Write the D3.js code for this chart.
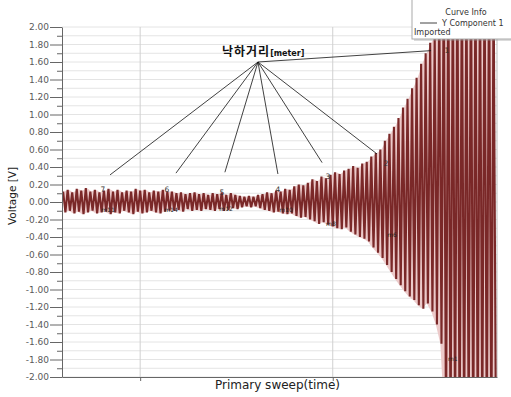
<!DOCTYPE html>
<html>
<head>
<meta charset="utf-8">
<script src="https://cdn.jsdelivr.net/npm/d3@7"></script>
<style>
body { margin: 0; background: #fff; }
text { font-family: "DejaVu Sans", sans-serif; }
</style>
</head>
<body>
<div id="chart"></div>
<script>
// y axis tick labels
var yTicks = [2.0, 1.8, 1.6, 1.4, 1.2, 1.0, 0.8, 0.6, 0.4, 0.2, 0.0,
    -0.2, -0.4, -0.6, -0.8, -1.0, -1.2, -1.4, -1.6, -1.8, -2.0];
// unlabelled x ticks (sample index)
var xTicks = [34, 119];

// peak values per cycle of the sweep (V)
var upper = [0.12, 0.14, 0.11, 0.15, 0.13, 0.16, 0.12, 0.14, 0.11, 0.13, 0.15, 0.12,
    0.14, 0.11, 0.13, 0.12, 0.15, 0.13, 0.14, 0.11, 0.13, 0.12, 0.14, 0.12,
    0.12, 0.10, 0.11, 0.09, 0.10, 0.11, 0.09, 0.10, 0.08, 0.10,
    0.09, 0.11, 0.08, 0.10, 0.08,
    0.07, 0.06, 0.07, 0.06, 0.08,
    0.09, 0.11, 0.10, 0.13, 0.12, 0.15, 0.14,
    0.18, 0.20, 0.19, 0.22,
    0.26, 0.24, 0.29, 0.27,
    0.31, 0.34, 0.32, 0.36,
    0.38, 0.41, 0.39, 0.44, 0.46,
    0.52, 0.56, 0.60,
    0.70, 0.78, 0.86,
    0.96, 1.08, 1.18,
    1.30, 1.42,
    1.58, 1.70,
    1.82, 1.90,
    2.30,
    2.6, 2.7, 2.6, 2.8, 2.7, 2.6, 2.8, 2.7, 2.6, 2.7, 2.8, 2.6];
var lower = [-0.12, -0.10, -0.13, -0.11, -0.14, -0.12, -0.10, -0.13, -0.12, -0.11, -0.14, -0.12,
    -0.13, -0.10, -0.12, -0.14, -0.11, -0.13, -0.12, -0.10, -0.12, -0.13, -0.11, -0.10,
    -0.10, -0.09, -0.11, -0.08, -0.10, -0.09, -0.10, -0.08, -0.09, -0.10,
    -0.08, -0.10, -0.09, -0.07, -0.08,
    -0.06, -0.05, -0.06, -0.05, -0.07,
    -0.09, -0.10, -0.12, -0.11, -0.13, -0.14, -0.13,
    -0.16, -0.18, -0.17, -0.20,
    -0.22, -0.25, -0.23, -0.26,
    -0.28, -0.30, -0.31, -0.29,
    -0.34, -0.37, -0.40, -0.42, -0.45,
    -0.52, -0.58, -0.64,
    -0.72, -0.80, -0.88,
    -0.95, -1.02, -1.08,
    -1.12, -1.18,
    -1.22, -1.16,
    -1.25, -1.40,
    -1.62,
    -2.6, -2.7, -2.6, -2.8, -2.7, -2.6, -2.8, -2.7, -2.6, -2.7, -2.8, -2.6];

// drop distance labels: text spot and where the leader line ends
var distLabels = ['7', '6', '5', '4', '3', '2', '1'];
var distText = [[17.6, 0.11], [45.8, 0.11], [70.1, 0.08], [94.8, 0.11], [116.9, 0.26], [142.5, 0.41], [169.4, 1.70]];
var leaderEnds = [[20.7, 0.31], [49.8, 0.33], [71.4, 0.34], [94.8, 0.32], [114.3, 0.45], [138.5, 0.55], [162.4, 1.73]];
var leaderHub = [86.0, 1.60];
var markerNames = ['m11', 'm14', 'm12', 'm10', 'm8', 'm6', 'm1'];
var markerPos = [[19.8, -0.11], [47.6, -0.11], [71.9, -0.10], [98.4, -0.11], [118.2, -0.27], [145.2, -0.40], [172.0, -1.82]];

var width = 511, height = 397;
var pLeft = 62, pRight = 497, pTop = 27, pBottom = 377;

var svg = d3.select('#chart').append('svg')
    .attr('width', width).attr('height', height);

var x = d3.scaleLinear().domain([-0.5, upper.length * 2 - 0.5]).range([pLeft, pRight]);
var y = d3.scaleLinear().domain([-2, 2]).range([pBottom, pTop]);

// grid
svg.append('g').selectAll('line')
    .data(y.ticks(40))
    .enter().append('line')
    .attr('x1', pLeft).attr('x2', pRight)
    .attr('y1', d => y(d)).attr('y2', d => y(d))
    .attr('stroke', '#e4e4e4').attr('stroke-width', 1);
svg.append('g').selectAll('line')
    .data(xTicks)
    .enter().append('line')
    .attr('x1', d => x(d)).attr('x2', d => x(d))
    .attr('y1', pTop).attr('y2', pBottom)
    .attr('stroke', '#d0d0d0').attr('stroke-width', 1);

// frame
svg.append('line').attr('x1', pRight).attr('x2', pRight).attr('y1', pTop).attr('y2', pBottom)
    .attr('stroke', '#bbb');

// waveform
svg.append('clipPath').attr('id', 'clip').append('rect')
    .attr('x', pLeft).attr('y', pTop).attr('width', pRight - pLeft).attr('height', pBottom - pTop);

var pts = [];
upper.forEach(function (u, i) {
    pts.push([2 * i, u]);
    pts.push([2 * i + 1, lower[i]]);
});

// pale band behind the trace (gaps between strokes look pink)
svg.append('path')
    .datum(upper.map((u, i) => [2 * i + 0.5, u, lower[i]]))
    .attr('clip-path', 'url(#clip)')
    .attr('fill', '#eccaca')
    .attr('d', d3.area().x(d => x(d[0])).y0(d => y(d[2])).y1(d => y(d[1])));

svg.append('path')
    .datum(pts)
    .attr('clip-path', 'url(#clip)')
    .attr('fill', 'none')
    .attr('stroke', '#7a2828')
    .attr('stroke-width', 2.1)
    .attr('d', d3.line().x(d => x(d[0])).y(d => y(d[1])));

// axes
var yAxis = svg.append('g').attr('transform', 'translate(' + pLeft + ',0)')
    .call(d3.axisLeft(y).tickValues(yTicks).tickSize(12).tickSizeOuter(0).tickPadding(1)
        .tickFormat(d => d.toFixed(2)));
svg.append('g').attr('transform', 'translate(' + pLeft + ',0)')
    .call(d3.axisLeft(y).tickValues(y.ticks(40).filter(d => Math.round(d * 10) % 2 !== 0))
        .tickSize(5).tickFormat(''))
    .select('.domain').remove();
yAxis.selectAll('text').attr('fill', '#5a5a5a').style('font-size', '9px');

svg.append('g').attr('transform', 'translate(0,' + pBottom + ')')
    .call(d3.axisBottom(x).tickValues(xTicks).tickSize(4).tickSizeOuter(0).tickFormat(''));

svg.selectAll('.domain').attr('stroke', '#666');
svg.selectAll('.tick line').attr('stroke', '#666');

// axis titles
svg.append('text')
    .attr('transform', 'translate(16,196) rotate(-90)')
    .attr('text-anchor', 'middle')
    .style('font-size', '10.5px').attr('fill', '#222')
    .text('Voltage [V]');
svg.append('text')
    .attr('x', (pLeft + pRight) / 2 - 2).attr('y', 389)
    .attr('text-anchor', 'middle')
    .style('font-size', '12px').attr('fill', '#222')
    .text('Primary sweep(time)');

// leaders
svg.append('g').selectAll('line')
    .data(leaderEnds)
    .enter().append('line')
    .attr('x1', x(leaderHub[0])).attr('y1', y(leaderHub[1]))
    .attr('x2', d => x(d[0])).attr('y2', d => y(d[1]))
    .attr('stroke', '#111').attr('stroke-width', 0.8);

var hubText = svg.append('text')
    .attr('x', x(70.1)).attr('y', y(1.669))
    .attr('fill', '#111');
hubText.append('tspan').text('낙하거리')
    .style('font-family', '"Noto Sans CJK KR", sans-serif')
    .style('font-weight', 'bold').style('font-size', '12px')
    .style('letter-spacing', '1px');
hubText.append('tspan').text('[meter]')
    .style('font-weight', 'bold').style('font-size', '8px');

svg.append('g').selectAll('text')
    .data(distLabels)
    .enter().append('text')
    .attr('x', (d, i) => x(distText[i][0]))
    .attr('y', (d, i) => y(distText[i][1]))
    .attr('text-anchor', 'middle')
    .style('font-size', '7.5px').attr('fill', '#333')
    .text(d => d);

svg.append('g').selectAll('text')
    .data(markerNames)
    .enter().append('text')
    .attr('x', (d, i) => x(markerPos[i][0]))
    .attr('y', (d, i) => y(markerPos[i][1]))
    .attr('text-anchor', 'middle')
    .style('font-size', '6px').attr('fill', '#222')
    .text(d => d);

// legend box
var lg = svg.append('g');
lg.append('rect').attr('x', 414).attr('y', 1).attr('width', 100).attr('height', 40)
    .attr('fill', '#999').attr('opacity', 0.35);
lg.append('rect').attr('x', 412).attr('y', -1).attr('width', 100).attr('height', 40)
    .attr('fill', '#fff').attr('stroke', '#aaa');
lg.append('text').attr('x', 466).attr('y', 15).attr('text-anchor', 'middle')
    .style('font-size', '8px').attr('fill', '#333').text('Curve Info');
lg.append('line').attr('x1', 420).attr('x2', 437).attr('y1', 23).attr('y2', 23)
    .attr('stroke', '#444').attr('stroke-width', 1);
lg.append('text').attr('x', 442).attr('y', 26)
    .style('font-size', '8px').attr('fill', '#333').text('Y Component 1');
lg.append('text').attr('x', 414).attr('y', 35)
    .style('font-size', '8px').attr('fill', '#333').text('Imported');
</script>
</body>
</html>
